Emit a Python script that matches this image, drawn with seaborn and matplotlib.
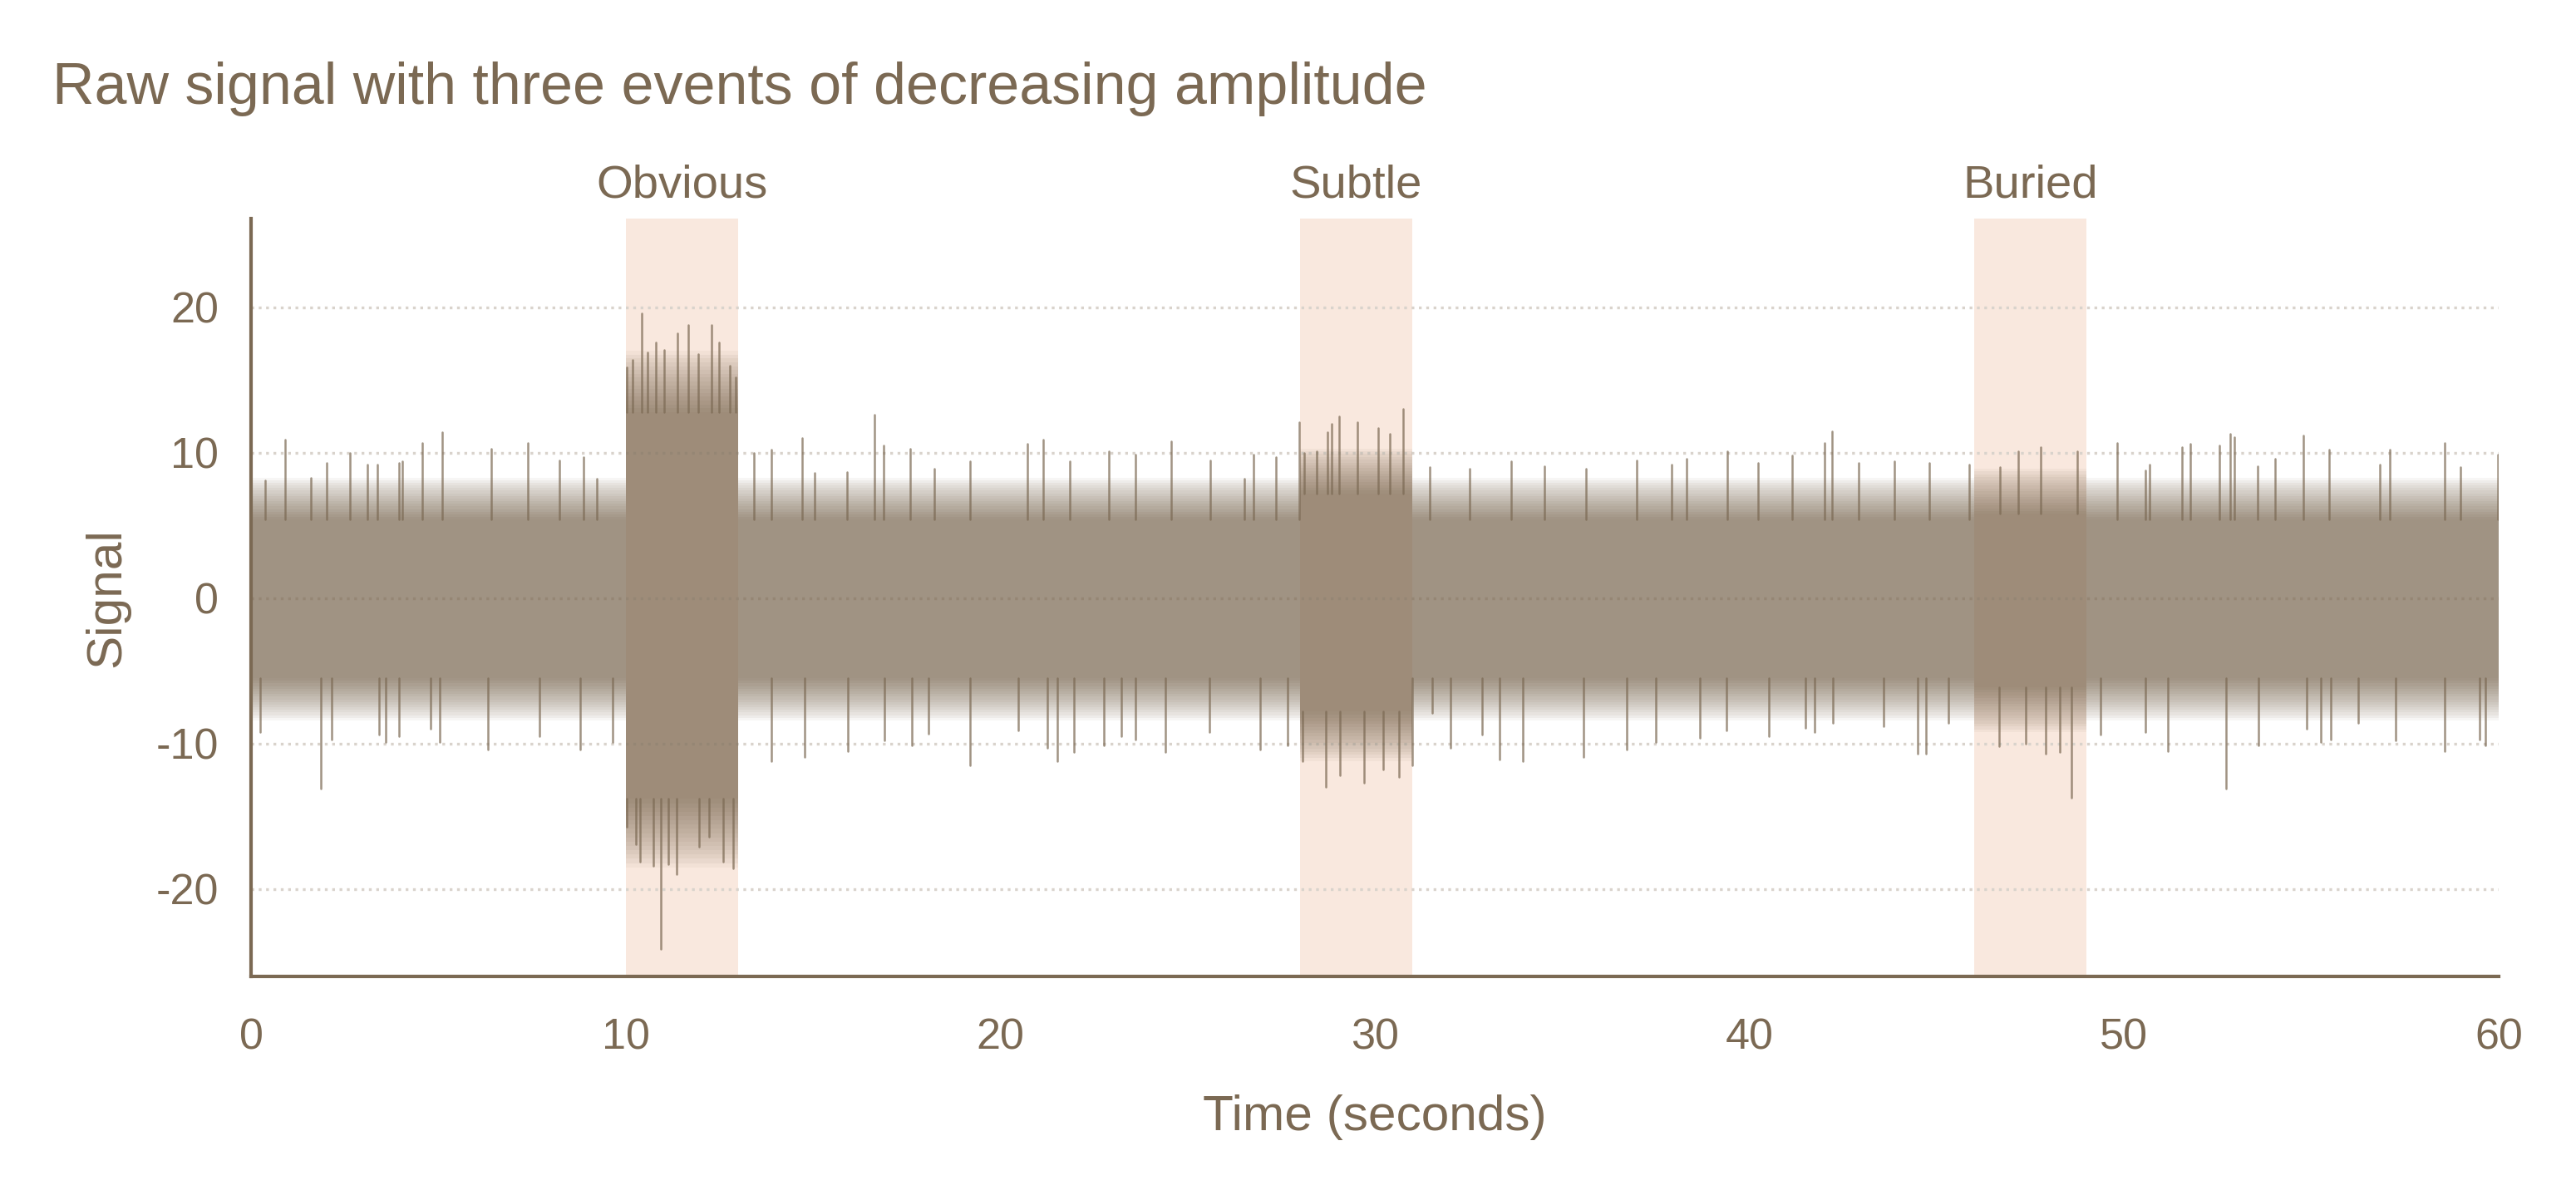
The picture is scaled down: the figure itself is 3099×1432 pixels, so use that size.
# %% HEADER
# Raw signal with three events of decreasing amplitude

# %% IMPORTS
import matplotlib.pyplot as plt
import matplotlib.transforms as mtransforms
import numpy as np
import pandas as pd
import seaborn as sns

# %% DATA
# Segments of the recording: where the noise band is solid and where it thins out
seg_edges = [0, 10, 13, 28, 31, 46, 49, 60]
dense_hi = [5.4, 12.8, 5.4, 7.2, 5.4, 5.8, 5.4]
dense_lo = [-5.5, -13.8, -5.5, -7.8, -5.5, -6.1, -5.5]
edge_hi = [8.3, 17.0, 8.3, 10.3, 8.3, 8.9, 8.3]
edge_lo = [-8.4, -18.5, -8.4, -11.2, -8.4, -9.2, -8.4]

# Marked events
event_names = ["Obvious", "Subtle", "Buried"]
event_start = [10, 28, 46]
event_end = [13, 31, 49]

# Tallest spikes (seconds, signal)
peak_up_t = [
    0.38, 0.90, 1.60, 2.01, 2.65, 3.10, 3.38, 3.96, 4.04, 4.56, 5.11, 6.41, 7.39,
    8.23, 8.88, 9.22, 10.02, 10.19, 10.42, 10.58, 10.80, 11.03, 11.38, 11.67,
    11.93, 12.29, 12.50, 12.79, 12.93, 13.43, 13.89, 14.71, 15.05, 15.91, 16.64,
    16.89, 17.60, 18.23, 19.19, 20.72, 21.14, 21.85, 22.91, 23.62, 24.57, 25.60,
    26.51, 26.77, 27.35, 27.98, 28.11, 28.44, 28.73, 28.84, 29.05, 29.54, 30.09,
    30.39, 30.75, 31.46, 32.53, 33.63, 34.53, 35.63, 36.98, 37.93, 38.32, 39.41,
    40.24, 41.14, 42.01, 42.21, 42.92, 43.87, 44.81, 45.87, 46.69, 47.18, 47.78,
    48.75, 49.81, 50.56, 50.67, 51.55, 51.76, 52.54, 52.83, 52.95, 53.56, 54.02,
    54.79, 55.48, 56.83, 57.09, 58.55, 58.97, 59.98,
]
peak_up_v = [
    8.1, 10.9, 8.3, 9.3, 10.0, 9.2, 9.2, 9.3, 9.4, 10.7, 11.4, 10.3, 10.7,
    9.5, 9.7, 8.2, 15.9, 16.4, 19.6, 16.9, 17.6, 17.1, 18.2, 18.8,
    16.8, 18.8, 17.6, 16.0, 15.2, 10.0, 10.2, 11.0, 8.6, 8.7, 12.6,
    10.5, 10.3, 8.9, 9.4, 10.6, 10.9, 9.4, 10.1, 9.9, 10.8, 9.5,
    8.2, 9.9, 9.7, 12.1, 10.0, 10.1, 11.4, 12.0, 12.5, 12.1, 11.7,
    11.3, 13.0, 9.0, 8.9, 9.4, 9.1, 8.9, 9.5, 9.2, 9.6, 10.1,
    9.3, 9.8, 10.7, 11.5, 9.3, 9.4, 9.3, 9.2, 9.0, 10.1, 10.4,
    10.1, 10.7, 8.8, 9.2, 10.4, 10.6, 10.5, 11.3, 11.1, 9.1, 9.6,
    11.2, 10.2, 9.2, 10.2, 10.7, 9.0, 9.9,
]
peak_down_t = [
    0.25, 1.87, 2.15, 3.42, 3.60, 3.96, 4.79, 5.03, 6.32, 7.71, 8.78, 9.66,
    10.03, 10.28, 10.39, 10.73, 10.94, 11.14, 11.37, 11.95, 12.23, 12.60, 12.88,
    13.89, 14.78, 15.93, 16.90, 17.63, 18.09, 19.19, 20.48, 21.26, 21.53, 21.96,
    22.77, 23.24, 23.60, 24.40, 25.58, 26.94, 27.68, 28.07, 28.70, 29.07, 29.72,
    30.22, 30.65, 31.00, 31.53, 32.02, 32.86, 33.32, 33.95, 35.58, 36.72, 37.51,
    38.67, 39.39, 40.52, 41.49, 41.74, 42.23, 43.59, 44.50, 44.72, 45.30, 46.66,
    47.37, 47.90, 48.28, 48.59, 49.38, 50.56, 51.16, 52.73, 53.58, 54.87, 55.26,
    55.51, 56.24, 57.25, 58.55, 59.48, 59.64,
]
peak_down_v = [
    -9.2, -13.1, -9.7, -9.4, -9.9, -9.5, -9.0, -9.9, -10.4, -9.5, -10.4, -9.9,
    -15.7, -16.9, -18.1, -18.4, -24.1, -18.3, -19.0, -17.1, -16.4, -18.1, -18.6,
    -11.2, -10.9, -10.5, -9.8, -10.1, -9.3, -11.5, -9.1, -10.3, -11.2, -10.6,
    -10.1, -9.5, -9.7, -10.6, -9.2, -10.4, -10.1, -11.2, -13.0, -12.2, -12.7,
    -11.8, -12.3, -11.5, -7.9, -10.3, -9.4, -11.1, -11.2, -10.9, -10.4, -9.9,
    -9.6, -9.1, -9.5, -8.9, -9.2, -8.6, -8.8, -10.7, -10.7, -8.6, -10.2,
    -10.0, -10.7, -10.6, -13.7, -9.4, -9.2, -10.5, -13.1, -10.1, -9.0, -9.9,
    -9.7, -8.6, -9.8, -10.5, -9.7, -10.1,
]

# %% STYLE
text_color = "#7b6953"
signal_alpha = 0.72
span_color = "#f9e8de"
grid_color = "#d9d3cc"
fade_layers = 16

sns.set_theme(style="white")
plt.rcParams["font.family"] = ["Liberation Sans", "DejaVu Sans"]
plt.rcParams["axes.unicode_minus"] = False

# %% PREPARE
# Spikes start at the edge of the solid band of their segment
spikes = pd.DataFrame({
    "t": peak_up_t + peak_down_t,
    "peak": peak_up_v + peak_down_v,
})
seg_idx = np.clip(np.searchsorted(seg_edges, spikes["t"], side="right") - 1, 0, len(dense_hi) - 1)
spikes["base"] = np.where(
    spikes["peak"] > 0, np.array(dense_hi)[seg_idx], np.array(dense_lo)[seg_idx]
)
spikes["id"] = range(len(spikes))
spike_lines = pd.concat([
    spikes[["id", "t"]].assign(value=spikes["base"]),
    spikes[["id", "t"]].assign(value=spikes["peak"]),
])


# Repeat last value so step="post" covers the whole last segment
def steps(values):
    return np.array(list(values) + [values[-1]])


# %% VISUALISE
fig = plt.figure(figsize=(3099 / 300, 1432 / 300), dpi=300)
ax = fig.add_axes([302 / 3099, 257 / 1432, (3006 - 302) / 3099, (1175 - 263) / 1432])

# Event spans
for start, end in zip(event_start, event_end):
    ax.axvspan(start, end, color=span_color, lw=0, zorder=0.2)

# Solid band
ax.fill_between(seg_edges, steps(dense_lo), steps(dense_hi), step="post",
                color=text_color, alpha=signal_alpha, lw=0, zorder=2)

# Thinning edge of the band, drawn as a fade
for k in range(fade_layers):
    a = signal_alpha * (1 - (k + 0.5) / fade_layers) ** 0.75
    f0, f1 = k / fade_layers, (k + 1) / fade_layers
    for dense, edge in [(dense_hi, edge_hi), (dense_lo, edge_lo)]:
        d, e = steps(dense), steps(edge)
        ax.fill_between(seg_edges, d + (e - d) * f0, d + (e - d) * f1, step="post",
                        color=text_color, alpha=a, lw=0, zorder=2)

# Spikes
sns.lineplot(
    data=spike_lines, x="t", y="value", units="id", estimator=None,
    color=text_color, alpha=signal_alpha, lw=0.6, ax=ax, zorder=2,
)

# Event labels above the plot
trans = mtransforms.blended_transform_factory(ax.transData, ax.transAxes)
for name, start, end in zip(event_names, event_start, event_end):
    ax.annotate(name, xy=((start + end) / 2, 1.0), xycoords=trans,
                xytext=(0, 6), textcoords="offset points",
                ha="center", va="baseline", fontsize=13.5, color=text_color)

# Axes
ax.set_xlim(0, 60)
ax.set_ylim(-26, 26.1)
ax.set_xticks([0, 10, 20, 30, 40, 50, 60])
ax.set_yticks([-20, -10, 0, 10, 20])
ax.set_axisbelow(True)
ax.yaxis.grid(True, color=grid_color, linestyle=":", linewidth=0.8)
ax.xaxis.grid(False)
for side in ["top", "right"]:
    ax.spines[side].set_visible(False)
for side in ["left", "bottom"]:
    ax.spines[side].set_color(text_color)
    ax.spines[side].set_linewidth(1.0)
ax.tick_params(axis="both", direction="out", length=4.8, width=0.8,
               colors=text_color, labelsize=12.5)
ax.tick_params(axis="x", pad=7)
ax.tick_params(axis="y", pad=4.5)
ax.set_xlabel("Time (seconds)", fontsize=14.5, color=text_color, labelpad=10.5)
ax.set_ylabel("Signal", fontsize=14.5, color=text_color, labelpad=7.5)

# Title
fig.text(63 / 3099, 1 - 125 / 1432, "Raw signal with three events of decreasing amplitude",
         ha="left", va="baseline", fontsize=16.8, color=text_color)

fig.savefig("out.png", dpi=300)
